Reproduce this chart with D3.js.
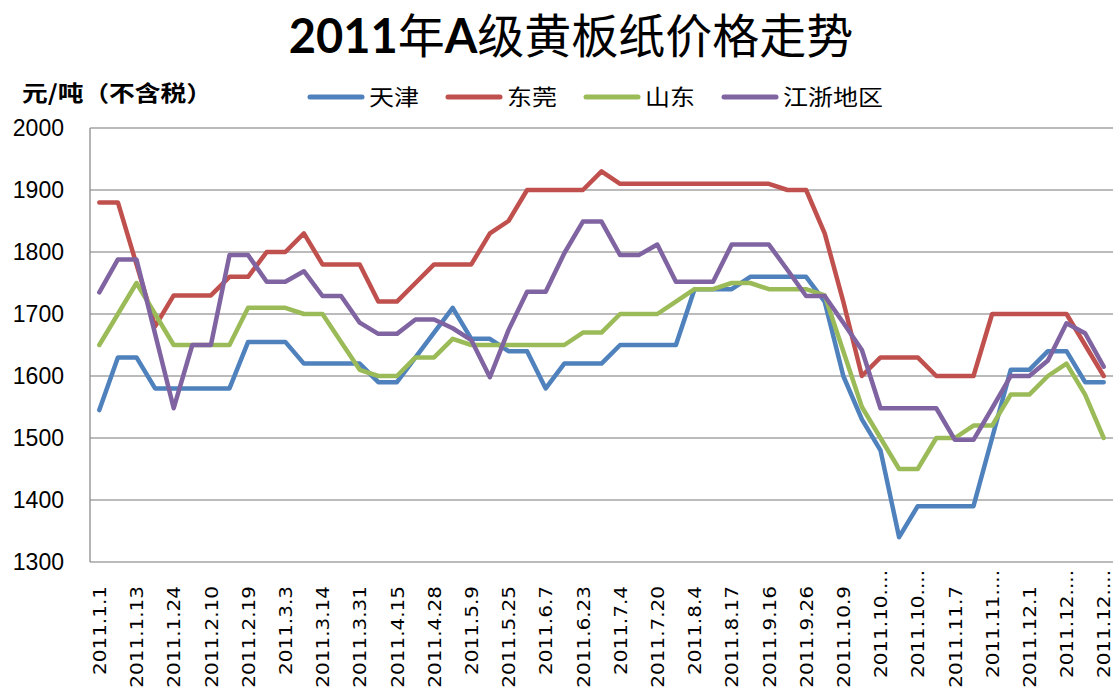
<!DOCTYPE html>
<html>
<head>
<meta charset="utf-8">
<script src="https://cdn.jsdelivr.net/npm/d3@7"></script>
<style>
	body { margin: 0; background: #fff; }
</style>
</head>
<body>
<div id="vis"></div>
<script>
// categories (only every second one is labelled on the axis)
var categories = ["2011.1.1","2011.1.7","2011.1.13","2011.1.18","2011.1.24","2011.1.28","2011.2.10","2011.2.15","2011.2.19","2011.2.24",
	"2011.3.3","2011.3.9","2011.3.14","2011.3.22","2011.3.31","2011.4.8","2011.4.15","2011.4.21","2011.4.28","2011.5.4",
	"2011.5.9","2011.5.17","2011.5.25","2011.5.31","2011.6.7","2011.6.15","2011.6.23","2011.6.28","2011.7.4","2011.7.12",
	"2011.7.20","2011.7.27","2011.8.4","2011.8.11","2011.8.17","2011.9.1","2011.9.16","2011.9.21","2011.9.26","2011.9.30",
	"2011.10.9","2011.10.13","2011.10.18","2011.10.21","2011.10.25","2011.10.31","2011.11.7","2011.11.10","2011.11.14","2011.11.25",
	"2011.12.1","2011.12.6","2011.12.12","2011.12.19","2011.12.26"];

var tianjin = [1545,1630,1630,1580,1580,1580,1580,1580,1655,1655,
	1655,1620,1620,1620,1620,1590,1590,1630,1670,1710,
	1660,1660,1640,1640,1580,1620,1620,1620,1650,1650,
	1650,1650,1740,1740,1740,1760,1760,1760,1760,1720,
	1600,1530,1480,1340,1390,1390,1390,1390,1500,1610,
	1610,1640,1640,1590,1590];

var dongguan = [1880,1880,1780,1680,1730,1730,1730,1760,1760,1800,
	1800,1830,1780,1780,1780,1720,1720,1750,1780,1780,
	1780,1830,1850,1900,1900,1900,1900,1930,1910,1910,
	1910,1910,1910,1910,1910,1910,1910,1900,1900,1830,
	1720,1600,1630,1630,1630,1600,1600,1600,1700,1700,
	1700,1700,1700,1650,1600];

var shandong = [1650,1700,1750,1700,1650,1650,1650,1650,1710,1710,
	1710,1700,1700,1655,1610,1600,1600,1630,1630,1660,
	1650,1650,1650,1650,1650,1650,1670,1670,1700,1700,
	1700,1720,1740,1740,1750,1750,1740,1740,1740,1730,
	1640,1550,1500,1450,1450,1500,1500,1520,1520,1570,
	1570,1600,1620,1570,1500];

var jiangzhe = [1735,1788,1788,1668,1548,1650,1650,1795,1795,1752,
	1752,1769,1729,1729,1686,1668,1668,1691,1691,1677,
	1658,1598,1674,1736,1736,1798,1849,1849,1795,1795,
	1812,1752,1752,1752,1812,1812,1812,1771,1729,1729,
	1686,1642,1548,1548,1548,1548,1497,1497,1548,1600,
	1600,1625,1685,1669,1615];

var seriesNames = ["天津", "东莞", "山东", "江浙地区"];
var seriesColors = ["#4F81BD", "#C0504D", "#9BBB59", "#8064A2"];
var yTicks = [1300, 1400, 1500, 1600, 1700, 1800, 1900, 2000];

var svg, xScale, yScale;

createChart();

function shortLabel(s) {
	// long labels get cut off like in the original
	return s.length > 9 ? s.slice(0, 7) + "...." : s;
}

function createChart() {
	var w = 1114;
	var h = 695;
	var left = 90, right = 1113, top = 128, bottom = 562;

	svg = d3.select("#vis")
		.append("svg")
		.attr("width", w)
		.attr("height", h);

	xScale = d3.scalePoint()
		.domain(categories)
		.range([left, right])
		.padding(0.5);

	yScale = d3.scaleLinear()
		.domain([1300, 2000])
		.range([bottom, top]);

	// grid
	svg.append("g")
		.selectAll("line")
		.data(yTicks)
		.enter()
		.append("line")
		.attr("x1", left)
		.attr("x2", right)
		.attr("y1", function(d) { return yScale(d); })
		.attr("y2", function(d) { return yScale(d); })
		.attr("stroke", "#a5a5a5")
		.attr("stroke-width", 1.3);

	svg.append("line")
		.attr("x1", left).attr("x2", left)
		.attr("y1", top).attr("y2", bottom)
		.attr("stroke", "#8c8c8c")
		.attr("stroke-width", 1.3);

	// y axis
	var yAxis = svg.append("g")
		.attr("transform", "translate(" + left + ",0)")
		.call(d3.axisLeft(yScale)
			.tickValues(yTicks)
			.tickSize(0)
			.tickPadding(26)
			.tickFormat(d3.format("d")));
	yAxis.select(".domain").remove();
	yAxis.selectAll("text")
		.attr("font-family", "Liberation Sans, Arial, sans-serif")
		.attr("font-size", 23)
		.attr("fill", "#000");

	// x axis
	var xAxis = svg.append("g")
		.attr("transform", "translate(0," + bottom + ")")
		.call(d3.axisBottom(xScale)
			.tickValues(categories.filter(function(d, i) { return i % 2 === 0; }))
			.tickSize(0)
			.tickFormat(shortLabel));
	xAxis.select(".domain").remove();
	xAxis.selectAll("text")
		.attr("font-family", "DejaVu Sans, sans-serif")
		.attr("font-size", 20)
		.attr("fill", "#000")
		.attr("text-anchor", "end")
		.attr("transform", "scale(0.88,1) rotate(-90)")
		.attr("x", function(d) { return d.length > 9 ? -8 : -24; })
		.attr("y", 0)
		.attr("dy", "0.35em");

	// lines
	var seriesData = [tianjin, dongguan, shandong, jiangzhe];
	var line = d3.line()
		.x(function(d, i) { return xScale(categories[i]); })
		.y(function(d) { return yScale(d); });

	svg.append("g")
		.selectAll("path")
		.data(seriesData)
		.enter()
		.append("path")
		.attr("d", line)
		.attr("fill", "none")
		.attr("stroke", function(d, i) { return seriesColors[i]; })
		.attr("stroke-width", 4.5)
		.attr("stroke-linejoin", "round")
		.attr("stroke-linecap", "round");

	// title: latin parts bold, chinese parts regular
	var titleParts = [["2011", true], ["年", false], ["A", true], ["级黄板纸价格走势", false]];
	var titleG = svg.append("g");
	var tx = 0;
	titleParts.forEach(function(p) {
		var t = titleG.append("text")
			.attr("x", tx)
			.attr("y", 53)
			.attr("font-size", 47)
			.attr("font-family", p[1] ? "Lato, sans-serif" : "Noto Sans CJK SC, sans-serif")
			.attr("font-weight", p[1] ? "bold" : "normal")
			.text(p[0]);
		tx += t.node().getComputedTextLength();
	});
	titleG.attr("transform", "translate(" + (571 - tx / 2) + ",0)");

	// y axis title
	svg.append("text")
		.attr("x", 22)
		.attr("y", 101)
		.attr("font-family", "Noto Sans CJK SC, sans-serif")
		.attr("font-weight", "bold")
		.attr("font-size", 22)
		.attr("textLength", 190)
		.attr("lengthAdjust", "spacingAndGlyphs")
		.text("元/吨（不含税）");

	// legend
	var lx = 310;
	seriesNames.forEach(function(name, i) {
		var tw = name.length * 25;
		svg.append("line")
			.attr("x1", lx).attr("x2", lx + 52)
			.attr("y1", 97).attr("y2", 97)
			.attr("stroke", seriesColors[i])
			.attr("stroke-width", 5)
			.attr("stroke-linecap", "round");
		svg.append("text")
			.attr("x", lx + 59)
			.attr("y", 105)
			.attr("font-family", "Noto Sans CJK SC, sans-serif")
			.attr("font-size", 22)
			.attr("textLength", tw)
			.attr("lengthAdjust", "spacingAndGlyphs")
			.text(name);
		lx += 59 + tw + 29;
	});
}
</script>
</body>
</html>
